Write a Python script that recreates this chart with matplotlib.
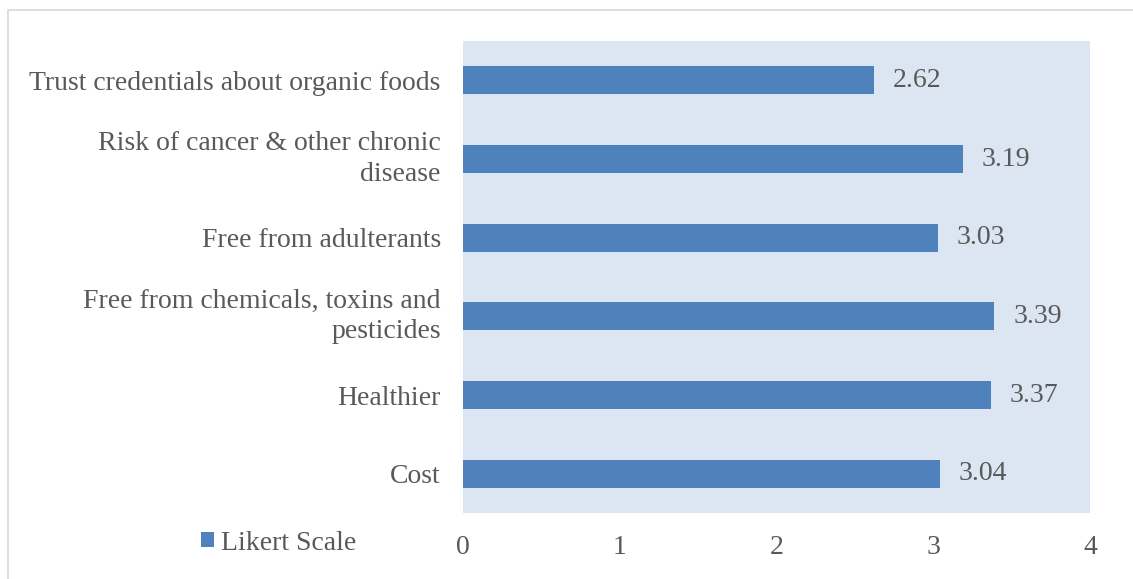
import matplotlib
matplotlib.use("Agg")
import matplotlib.pyplot as plt
from matplotlib.patches import Rectangle

categories = ["Cost", "Healthier", "Free from chemicals, toxins and\npesticides",
              "Free from adulterants", "Risk of cancer & other chronic\ndisease",
              "Trust credentials about organic foods"]
values = [3.04, 3.37, 3.39, 3.03, 3.19, 2.62]
xticks = [0, 1, 2, 3, 4]
series_name = "Likert Scale"

plt.rcParams['font.family'] = ['Liberation Serif', 'DejaVu Serif']
W, H = 1133, 579
fig = plt.figure(figsize=(W / 100, H / 100), dpi=100)
fig.patch.set_facecolor('white')
# outer border
fig.add_artist(Rectangle((8 / W, -0.1), 1.2, 1 - 10 / H + 0.1, transform=fig.transFigure,
                         fill=False, edgecolor='#D9D9D9', linewidth=1.2))

ax = fig.add_axes([463 / W, 1 - 513 / H, (1090 - 463) / W, (513 - 41) / H])
ax.set_facecolor('#DCE6F2')
text_color = '#595959'
fs = 20
bars = ax.barh(range(len(categories)), values, height=0.36, color='#4F81BD',
               label=series_name)
ax.set_xlim(0, 4)
ax.set_ylim(-0.5, len(categories) - 0.5)
ax.set_xticks(xticks)
ax.set_xticklabels([str(t) for t in xticks])
ax.set_yticks(range(len(categories)))
ax.set_yticklabels(categories, linespacing=1.3)
for s in ax.spines.values():
    s.set_visible(False)
ax.tick_params(axis='both', length=0, colors=text_color, labelsize=fs)
ax.tick_params(axis='x', pad=16)
ax.tick_params(axis='y', pad=16)
for lbl in ax.get_yticklabels():
    lbl.set_horizontalalignment('right')
    if "\n" in lbl.get_text():
        lbl.set_verticalalignment('center')
for b, v in zip(bars, values):
    ax.text(v + 0.12, b.get_y() + b.get_height() / 2, f"{v:.2f}", va='center', ha='left',
            fontsize=fs, color=text_color)

fig.legend(handles=[bars], labels=[series_name], loc='center left',
           bbox_to_anchor=(176 / W, 1 - 543 / H), frameon=False, fontsize=fs,
           handlelength=0.48, handleheight=0.48, handletextpad=0.25, labelcolor=text_color)

fig.savefig("out.png", dpi=100)
